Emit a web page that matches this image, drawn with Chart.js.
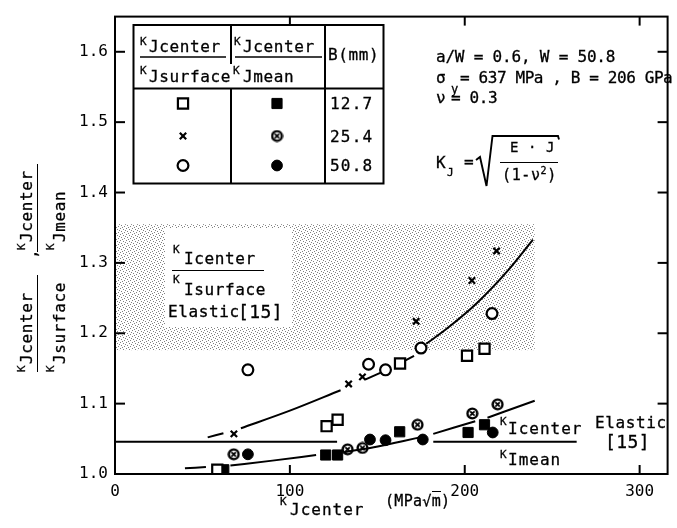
<!DOCTYPE html>
<html>
<head>
<meta charset="utf-8">
<script src="https://cdn.jsdelivr.net/npm/chart.js@4/dist/chart.umd.min.js"></script>
<style>
  html, body { margin: 0; padding: 0; background: #fff; }
  #wrap { position: relative; width: 677px; height: 528px; overflow: hidden;
          font-family: 'DejaVu Sans Mono', monospace; color: #000; }
  #c { position: absolute; left: 0; top: 0; }
  .t { position: absolute; white-space: nowrap; line-height: 1; letter-spacing: 0.6px;
       -webkit-text-stroke: 0.3px #000; }
  .f16 { font-size: 16px; }
  .k { font-size: 11px; letter-spacing: 0; }
  .bar { position: absolute; height: 0; border-top: 1.7px solid #000; }
  #kibox { position: absolute; left: 165px; top: 228px; width: 127px; height: 99px; background: #fff; }
  #ytitle { position: absolute; left: 10px; top: 372px; width: 215px; height: 60px;
            transform-origin: 0 0; transform: rotate(-90deg); }
</style>
</head>
<body>
<div id="wrap">
  <canvas id="c" width="677" height="528"></canvas>

  <!-- legend table texts -->
  <div class="t k" style="left:140px;top:36px">K</div>
  <div class="t f16" style="left:149px;top:38.5px">Jcenter</div>
  <div class="t k" style="left:140px;top:64.7px">K</div>
  <div class="t f16" style="left:149px;top:68.5px">Jsurface</div>
  <div class="t k" style="left:234px;top:36px">K</div>
  <div class="t f16" style="left:243px;top:38.5px">Jcenter</div>
  <div class="t k" style="left:233px;top:64.7px">K</div>
  <div class="t f16" style="left:243px;top:68.5px">Jmean</div>
  <div class="t f16" style="left:328px;top:46.5px">B(mm)</div>
  <div class="t f16" style="left:330px;top:95.5px;letter-spacing:1.2px">12.7</div>
  <div class="t f16" style="left:330px;top:128.5px;letter-spacing:1.2px">25.4</div>
  <div class="t f16" style="left:330px;top:157.5px;letter-spacing:1.2px">50.8</div>

  <!-- test conditions -->
  <div class="t f16" style="left:436px;top:48.5px;letter-spacing:-0.2px">a/W = 0.6, W = 50.8</div>
  <div class="t f16" style="left:436px;top:69.5px">σ</div>
  <div class="t" style="left:451px;top:82.8px;font-size:12px">y</div>
  <div class="t f16" style="left:460px;top:69.5px;letter-spacing:-0.4px">= 637 MPa , B = 206 GPa</div>
  <div class="t f16" style="left:436px;top:89.5px">ν</div>
  <div class="t f16" style="left:451px;top:89.5px;letter-spacing:-0.4px">= 0.3</div>

  <!-- K_J definition -->
  <div class="t f16" style="left:436px;top:154.5px">K</div>
  <div class="t k" style="left:447px;top:166.7px">J</div>
  <div class="t f16" style="left:464px;top:153.5px">=</div>
  <svg style="position:absolute;left:0;top:0" width="677" height="528">
    <path d="M476 160 L480 157 L486.5 186 L492.5 136 L558 136 L559 139.5" fill="none" stroke="#000" stroke-width="1.9"/>
  </svg>
  <div class="t" style="left:510px;top:140.2px;font-size:14px">E · J</div>
  <div class="bar" style="left:500px;top:161.5px;width:58px"></div>
  <div class="t" style="left:502px;top:168.3px;font-size:15px">(1-ν<span style="font-size:10px;position:relative;top:-6px">2</span>)</div>

  <!-- elastic centre/surface ratio label -->
  <div id="kibox"></div>
  <div class="t k" style="left:173px;top:243.7px">K</div>
  <div class="t f16" style="left:184px;top:250.5px">Icenter</div>
  <div class="bar" style="left:172px;top:269.5px;width:92px"></div>
  <div class="t k" style="left:173px;top:273.7px">K</div>
  <div class="t f16" style="left:184px;top:281.5px">Isurface</div>
  <div class="t f16" style="left:168px;top:303.5px">Elastic</div>
  <div class="t" style="left:238px;top:302.8px;font-size:18px;letter-spacing:0.4px">[15]</div>

  <!-- elastic centre/mean ratio label -->
  <div class="t k" style="left:500px;top:415.7px">K</div>
  <div class="t f16" style="left:508px;top:420.5px;letter-spacing:1px">Icenter</div>
  <div class="t k" style="left:500px;top:448.7px">K</div>
  <div class="t f16" style="left:508px;top:451.5px;letter-spacing:1px">Imean</div>
  <div class="t f16" style="left:595px;top:414.5px">Elastic</div>
  <div class="t" style="left:605px;top:432.8px;font-size:18px;letter-spacing:0.4px">[15]</div>

  <!-- x axis title -->
  <div class="t k" style="left:280px;top:495.7px">K</div>
  <div class="t f16" style="left:290px;top:501.5px;letter-spacing:1px">Jcenter</div>
  <div class="t" style="left:385px;top:494.3px;font-size:15px;letter-spacing:0.3px">(MPa√<span style="border-top:1.5px solid #000">m</span>)</div>

  <!-- y axis title -->
  <div id="ytitle">
    <div class="t k" style="left:0;top:5.7px">K</div>
    <div class="t f16" style="left:8px;top:8.5px">Jcenter</div>
    <div class="bar" style="left:0;top:26.5px;width:97px"></div>
    <div class="t k" style="left:0;top:34.7px">K</div>
    <div class="t f16" style="left:8px;top:41.5px">Jsurface</div>
    <div class="t f16" style="left:113px;top:13.5px">,</div>
    <div class="t k" style="left:122px;top:5.7px">K</div>
    <div class="t f16" style="left:130px;top:8.5px">Jcenter</div>
    <div class="bar" style="left:120px;top:26.5px;width:88px"></div>
    <div class="t k" style="left:122px;top:34.7px">K</div>
    <div class="t f16" style="left:130px;top:41.5px">Jmean</div>
  </div>
</div>

<script>
// K_Jcenter (MPa√m) against the ratio, one list per specimen thickness.
// K_Jcenter / K_Jsurface
const kjSurface127 = [[58.5, 1.006], [121, 1.068], [127.3, 1.077], [163, 1.157], [201.3, 1.168], [211.3, 1.178]];
const kjSurface254 = [[68, 1.057], [133.6, 1.128], [141.5, 1.138], [172.2, 1.217], [204.1, 1.275], [218.2, 1.317]];
const kjSurface508 = [[76, 1.148], [145, 1.156], [154.7, 1.148], [175, 1.179], [215.6, 1.228]];
// K_Jcenter / K_Jmean
const kjMean127 = [[62.2, 1.006], [120.5, 1.027], [127.3, 1.027], [162.8, 1.060], [201.9, 1.059], [211.3, 1.070]];
const kjMean254 = [[67.9, 1.028], [133, 1.035], [141.5, 1.037], [173, 1.070], [204.3, 1.086], [218.8, 1.099]];
const kjMean508 = [[76, 1.028], [145.8, 1.049], [154.7, 1.048], [176, 1.049], [216, 1.059]];

// Trend curves (null = pen lifted around the symbols)
const surfaceFitK = [53, 62, 67, 72, 100, 129, 136, 143, 152, 158, 165, 171, 175, 178, 190, 207, 225, 239];
const surfaceFitR = [1.052, 1.058, null, 1.065, 1.090, 1.119, null, 1.134, 1.144, null, 1.160, 1.168, null, 1.185, 1.207, 1.243, 1.290, 1.333];
const meanFitK = [40, 52, 58, 66, 90, 115, 122, 131, 148, 165, 176, 179, 182, 206, 209, 213, 240];
const meanFitR = [1.008, 1.010, null, 1.012, 1.019, 1.027, null, 1.031, 1.038, 1.047, 1.053, null, 1.057, 1.075, null, 1.080, 1.104];

// Elastic solution [15]: centre/mean level and centre/surface band
const elasticMeanK = [0, 127, 155, 182, 264];
const elasticMeanR = [1.046, 1.046, null, 1.046, 1.046];
const elasticBandK = [0, 240];
const elasticBandR = [1.176, 1.355];

// Axis ticks
const kjTicks = [0, 100, 200, 300];
const ratioTicks = [1.0, 1.1, 1.2, 1.3, 1.4, 1.5, 1.6];

const FONT = "'DejaVu Sans Mono', monospace";
const INK = '#000';

function circledCross() {
  const c = document.createElement('canvas');
  c.width = c.height = 13;
  const g = c.getContext('2d');
  g.strokeStyle = INK;
  g.lineWidth = 2.4;
  g.beginPath(); g.arc(6.5, 6.5, 4.9, 0, Math.PI * 2); g.stroke();
  g.lineWidth = 1.8;
  g.beginPath();
  g.moveTo(4.3, 4.3); g.lineTo(8.7, 8.7);
  g.moveTo(8.7, 4.3); g.lineTo(4.3, 8.7);
  g.stroke();
  return c;
}

const markers = {
  s127: { pointStyle: 'rect', radius: 7.2, bg: '#fff', bw: 2.2 },
  s254: { pointStyle: 'crossRot', radius: 4.5, bg: INK, bw: 2.2 },
  s508: { pointStyle: 'circle', radius: 5.4, bg: '#fff', bw: 2.2 },
  m127: { pointStyle: 'rect', radius: 7.2, bg: INK, bw: 1 },
  m254: { pointStyle: circledCross(), radius: 6, bg: INK, bw: 1 },
  m508: { pointStyle: 'circle', radius: 5.4, bg: INK, bw: 1 }
};

const toXY = pairs => pairs.map(([x, y]) => ({ x, y }));
const zipXY = (xs, ys) => xs.map((x, i) => ({ x, y: ys[i] }));

function markerSet(label, pairs, m) {
  return {
    label, data: toXY(pairs), showLine: false, order: 0,
    pointStyle: m.pointStyle, pointRadius: m.radius, pointHoverRadius: m.radius,
    pointBackgroundColor: m.bg, pointBorderColor: INK, pointBorderWidth: m.bw
  };
}

function lineSet(label, xs, ys) {
  return {
    label, data: zipXY(xs, ys), showLine: true, spanGaps: false, order: 1,
    borderColor: INK, borderWidth: 2, pointRadius: 0, cubicInterpolationMode: 'monotone'
  };
}

function stipplePattern(ctx) {
  const c = document.createElement('canvas');
  c.width = c.height = 6;
  const g = c.getContext('2d');
  g.fillStyle = '#fff'; g.fillRect(0, 0, 6, 6);
  g.fillStyle = '#808080';
  [[0, 0], [3, 1], [1, 3], [4, 4], [2, 5], [5, 2]].forEach(([i, j]) => g.fillRect(i, j, 1, 1));
  return ctx.createPattern(c, 'repeat');
}

const framePlugin = {
  id: 'frame',
  beforeDatasetsDraw(chart) {
    const { ctx, scales: { x, y } } = chart;
    const x0 = x.getPixelForValue(elasticBandK[0]), x1 = x.getPixelForValue(elasticBandK[1]);
    const yTop = y.getPixelForValue(elasticBandR[1]), yBot = y.getPixelForValue(elasticBandR[0]);
    ctx.save();
    ctx.fillStyle = stipplePattern(ctx);
    ctx.fillRect(x0, yTop, x1 - x0, yBot - yTop);
    ctx.restore();
  },
  afterDatasetsDraw(chart) {
    const { ctx, chartArea: a, scales: { x, y } } = chart;
    const seg = (x1, y1, x2, y2) => { ctx.beginPath(); ctx.moveTo(x1, y1); ctx.lineTo(x2, y2); ctx.stroke(); };
    ctx.save();
    ctx.strokeStyle = INK;
    ctx.lineWidth = 2;
    ctx.strokeRect(a.left, a.top, a.right - a.left, a.bottom - a.top);
    x.ticks.forEach(t => {
      const px = x.getPixelForValue(t.value);
      if (px <= a.left + 1) return;
      seg(px, a.bottom, px, a.bottom - 9);
      seg(px, a.top, px, a.top + 9);
    });
    y.ticks.forEach(t => {
      const py = y.getPixelForValue(t.value);
      if (py >= a.bottom - 1) return;
      seg(a.left, py, a.left + 10, py);
      seg(a.right, py, a.right - 10, py);
    });

    // symbol table
    ctx.strokeRect(133.5, 25, 250, 158.5);
    seg(133.5, 88.5, 383.5, 88.5);
    seg(231, 25, 231, 64);
    seg(231, 88.5, 231, 183.5);
    seg(325, 25, 325, 183.5);
    ctx.lineWidth = 1.7;
    seg(140, 57, 226, 57);
    seg(235, 57, 322, 57);

    const rows = [103.5, 136, 165.5];
    const cols = [183, 277];
    const grid = [['s127', 'm127'], ['s254', 'm254'], ['s508', 'm508']];
    grid.forEach((row, r) => row.forEach((key, c) => {
      const m = markers[key];
      ctx.fillStyle = m.bg;
      ctx.strokeStyle = INK;
      ctx.lineWidth = m.bw;
      Chart.helpers.drawPoint(ctx, { pointStyle: m.pointStyle, rotation: 0, radius: m.radius, borderWidth: m.bw }, cols[c], rows[r]);
    }));
    ctx.restore();
  }
};

new Chart(document.getElementById('c'), {
  type: 'scatter',
  data: {
    datasets: [
      markerSet('B 12.7 surface', kjSurface127, markers.s127),
      markerSet('B 25.4 surface', kjSurface254, markers.s254),
      markerSet('B 50.8 surface', kjSurface508, markers.s508),
      markerSet('B 12.7 mean', kjMean127, markers.m127),
      markerSet('B 25.4 mean', kjMean254, markers.m254),
      markerSet('B 50.8 mean', kjMean508, markers.m508),
      lineSet('surface trend', surfaceFitK, surfaceFitR),
      lineSet('mean trend', meanFitK, meanFitR),
      lineSet('elastic centre/mean', elasticMeanK, elasticMeanR)
    ]
  },
  options: {
    responsive: false,
    animation: false,
    devicePixelRatio: 1,
    layout: { padding: { top: 10, right: 4, left: 0, bottom: 0 } },
    plugins: { legend: { display: false }, tooltip: { enabled: false } },
    scales: {
      x: {
        type: 'linear', min: 0, max: 316,
        grid: { display: false, drawTicks: false },
        border: { display: false },
        afterBuildTicks: s => { s.ticks = kjTicks.map(v => ({ value: v })); },
        afterFit: s => { s.height = 54; },
        ticks: { padding: 8, color: INK, font: { family: FONT, size: 16 }, callback: v => String(v) }
      },
      y: {
        type: 'linear', min: 1.0, max: 1.65,
        grid: { display: false, drawTicks: false },
        border: { display: false },
        afterBuildTicks: s => { s.ticks = ratioTicks.map(v => ({ value: v })); },
        afterFit: s => { s.width = 115; },
        ticks: { padding: 7, color: INK, font: { family: FONT, size: 16 }, callback: v => Number(v).toFixed(1) }
      }
    }
  },
  plugins: [framePlugin]
});
</script>
</body>
</html>
